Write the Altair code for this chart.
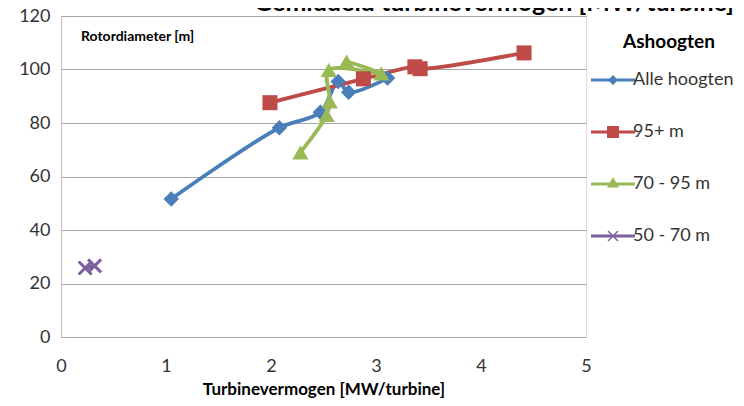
import altair as alt
import pandas as pd

# ---- data ----
series_names = ["Alle hoogten", "95+ m", "70 - 95 m", "50 - 70 m"]

alle_x = [1.05, 2.08, 2.47, 2.64, 2.74, 3.11]
alle_y = [51.6, 78.2, 84.0, 95.5, 91.5, 96.8]

h95_x = [1.99, 2.88, 3.37, 3.42, 4.41]
h95_y = [87.6, 96.5, 101.0, 100.3, 106.2]

h70_x = [2.28, 2.53, 2.56, 2.55, 3.05, 2.72]
h70_y = [69.0, 83.0, 88.0, 99.8, 98.5, 103.0]

h50_x = [0.23, 0.32]
h50_y = [25.8, 26.6]

x_ticks = [0, 1, 2, 3, 4, 5]
y_ticks = [0, 20, 40, 60, 80, 100, 120]

chart_title = "Gemiddeld turbinevermogen [MW/turbine]"
y_label = "Rotordiameter [m]"
x_title = "Turbinevermogen [MW/turbine]"
legend_title = "Ashoogten"

colors = ["#4A7EBB", "#BE4B48", "#98B954", "#7D60A0"]

rows = []
for name, xs, ys in zip(series_names,
                        [alle_x, h95_x, h70_x, h50_x],
                        [alle_y, h95_y, h70_y, h50_y]):
    for i, (xv, yv) in enumerate(zip(xs, ys)):
        rows.append({"series": name, "x": xv, "y": yv, "idx": i})
df = pd.DataFrame(rows)

FONT = "Lato"

x_enc = alt.X("x:Q", scale=alt.Scale(domain=[0, 5], nice=False),
              axis=alt.Axis(values=x_ticks, format="d", title=x_title, grid=False,
                            ticks=False, labelFlush=False, labelPadding=20,
                            labelFont=FONT, labelFontSize=18, labelColor="#333333",
                            titleFont=FONT, titleFontSize=17, titleFontWeight="bold",
                            titleColor="#000000", titlePadding=6,
                            domainColor="#A6A6A6", domainWidth=1))
y_enc = alt.Y("y:Q", scale=alt.Scale(domain=[0, 120], nice=False),
              axis=alt.Axis(values=y_ticks, format="d", title=None, grid=True,
                            gridColor="#A6A6A6", gridWidth=1, ticks=False,
                            labelFlush=False, labelPadding=11,
                            labelFont=FONT, labelFontSize=18, labelColor="#333333",
                            domainColor="#BFBFBF", domainWidth=1))

base = alt.Chart(df)

marker_style = {
    "Alle hoogten": dict(filled=True, shape="diamond", size=240),
    "95+ m": dict(filled=True, shape="square", size=225),
    "70 - 95 m": dict(filled=True, shape="triangle-up", size=260),
    "50 - 70 m": dict(filled=False, shape="M-1,-1L1,1M-1,1L1,-1", size=169, strokeWidth=3),
}

layers = []
for k, (name, c) in enumerate(zip(series_names, colors)):
    sub = base.transform_filter(alt.datum.series == name)
    enc_x = x_enc if k == 0 else alt.X("x:Q")
    enc_y = y_enc if k == 0 else alt.Y("y:Q")
    layers.append(sub.mark_line(strokeWidth=3.8, interpolate="catmull-rom", color=c).encode(
        x=enc_x, y=enc_y, order=alt.Order("idx:Q")))
for name, c in zip(series_names, colors):
    sub = base.transform_filter(alt.datum.series == name)
    layers.append(sub.mark_point(opacity=1, color=c, **marker_style[name]).encode(
        x="x:Q", y="y:Q"))

# legend symbols: a line bar with the series marker on it (fill only)
bar = "M-4.4,-0.3H4.4V0.3H-4.4Z"
legend_paths = [
    bar + "M0,-1L1,0L0,1L-1,0Z",
    bar + "M-1.2,-1.2H1.2V1.2H-1.2Z",
    bar + "M0,-1.4L1.2,0.7H-1.2Z",
    bar + "M-1.1,-0.9L-0.9,-1.1L1.1,0.9L0.9,1.1ZM-1.1,0.9L0.9,-1.1L1.1,-0.9L-0.9,1.1Z",
]

leg = alt.Legend(title=legend_title, orient="none", legendX=543, legendY=17,
                 symbolSize=100, symbolStrokeWidth=0, symbolOpacity=1,
                 labelOffset=11, labelFont=FONT, labelFontSize=18,
                 labelColor="#333333", labelLimit=300,
                 titleFont=FONT, titleFontSize=19, titleFontWeight="bold",
                 titleColor="#000000", titlePadding=19, titleAnchor="middle",
                 rowPadding=34)

legend_layer = base.mark_point(filled=True, opacity=1, size=0).encode(
    x="x:Q", y="y:Q",
    color=alt.Color("series:N", scale=alt.Scale(domain=series_names, range=colors),
                    legend=leg),
    shape=alt.Shape("series:N", scale=alt.Scale(domain=series_names, range=legend_paths),
                    legend=leg),
)
layers.append(legend_layer)

layers.append(alt.Chart(pd.DataFrame({"t": [chart_title]})).mark_text(
    font=FONT, fontSize=25, fontWeight="bold", align="center",
    baseline="alphabetic", color="#000000"
).encode(text="t:N", x=alt.value(433), y=alt.value(-5)))

layers.append(alt.Chart(pd.DataFrame({"t": [y_label]})).mark_text(
    font=FONT, fontSize=14, fontWeight="bold", align="left",
    baseline="middle", color="#000000"
).encode(text="t:N", x=alt.value(20), y=alt.value(21)))

chart = alt.layer(*layers).properties(
    width=525, height=321,
    autosize=alt.AutoSizeParams(type="none"),
    padding={"left": 53, "top": 8, "right": 150, "bottom": 61},
).configure_view(stroke=None).configure(background="white")

chart.save("out.html", embed_options={"renderer": "svg", "actions": False})
